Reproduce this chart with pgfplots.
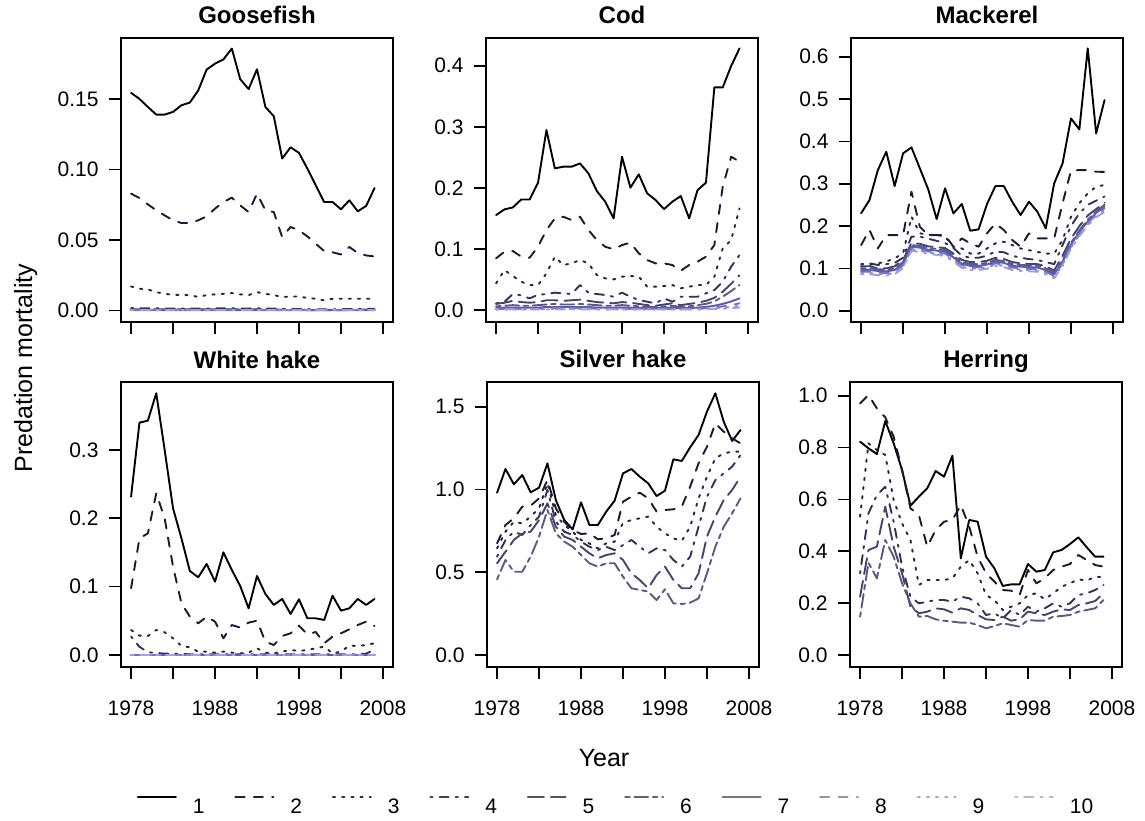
\documentclass[border=0pt]{standalone}
\usepackage{fontspec}
\setmainfont{Liberation Sans}
\usepackage{pgfplots}
\usepackage{pgfplotstable}
\pgfplotsset{compat=1.18}

\definecolor{c1}{HTML}{000000}
\definecolor{c2}{HTML}{1A1A38}
\definecolor{c3}{HTML}{24244A}
\definecolor{c4}{HTML}{33335A}
\definecolor{c5}{HTML}{45456C}
\definecolor{c6}{HTML}{5A5A85}
\definecolor{c7}{HTML}{5A5AAE}
\definecolor{c8}{HTML}{7272C0}
\definecolor{c9}{HTML}{8A8AD0}
\definecolor{c10}{HTML}{A0A0DC}
\definecolor{g1}{HTML}{000000}
\definecolor{g2}{HTML}{222222}
\definecolor{g3}{HTML}{333333}
\definecolor{g4}{HTML}{444444}
\definecolor{g5}{HTML}{555555}
\definecolor{g6}{HTML}{666666}
\definecolor{g7}{HTML}{777777}
\definecolor{g8}{HTML}{999999}
\definecolor{g9}{HTML}{AAAAAA}
\definecolor{g10}{HTML}{BBBBBB}

\pgfplotsset{
 ln/.style={line width=1.9pt, line cap=round, line join=round, mark=none},
 d1/.style={solid},
 d2/.style={dash pattern=on 9.2pt off 9.2pt},
 d3/.style={dash pattern=on 2.3pt off 6.9pt},
 d4/.style={dash pattern=on 2.3pt off 6.9pt on 9.2pt off 6.9pt},
 d5/.style={dash pattern=on 16.1pt off 6.9pt},
 d6/.style={dash pattern=on 4.6pt off 4.6pt on 13.8pt off 4.6pt},
 s1/.style={ln, c1, d1}, s2/.style={ln, c2, d2}, s3/.style={ln, c3, d3},
 s4/.style={ln, c4, d4}, s5/.style={ln, c5, d5}, s6/.style={ln, c6, d6},
 s7/.style={ln, c7, d1}, s8/.style={ln, c8, d2}, s9/.style={ln, c9, d3},
 s10/.style={ln, c10, d4},
 panel/.style={
  scale only axis, width=272pt, height=284pt, anchor=south west,
  xmin=1976.8, xmax=2009.2, xtick={1978,1983,1988,1993,1998,2003,2008},
  xtick pos=bottom, ytick pos=left, tick align=outside, major tick length=12pt,
  axis line style={line width=1.7pt}, tick style={line width=1.7pt, black},
  tick label style={font=\fontsize{21}{25}\selectfont},
  yticklabel style={anchor=east, xshift=-7pt},
  xticklabel style={anchor=base, yshift=-36pt},
  title style={at={(0.5,1)}, anchor=base, yshift=8pt, font=\bfseries\fontsize{24}{28}\selectfont},
 },
 toprow/.style={xticklabels={,,,,,,}},
 botrow/.style={xticklabels={1978,,1988,,1998,,2008}},
}

\pgfplotstableread{
yr a1 a2 a3 a4 a5 a6 a7 a8 a9 a10
1978 0.1543 0.0828 0.0170 0.0016 0.0008 0.0004 0.0002 0.0001 0.0001 0.0001
1979 0.1500 0.0797 0.0154 0.0016 0.0008 0.0004 0.0002 0.0001 0.0001 0.0001
1980 0.1443 0.0752 0.0149 0.0015 0.0008 0.0004 0.0002 0.0001 0.0001 0.0001
1981 0.1389 0.0710 0.0130 0.0015 0.0008 0.0004 0.0002 0.0001 0.0001 0.0001
1982 0.1389 0.0674 0.0118 0.0014 0.0007 0.0004 0.0002 0.0001 0.0001 0.0001
1983 0.1408 0.0639 0.0111 0.0014 0.0007 0.0004 0.0002 0.0001 0.0001 0.0001
1984 0.1455 0.0620 0.0109 0.0014 0.0007 0.0004 0.0002 0.0001 0.0001 0.0001
1985 0.1474 0.0620 0.0109 0.0014 0.0007 0.0004 0.0002 0.0001 0.0001 0.0001
1986 0.1560 0.0639 0.0095 0.0013 0.0007 0.0003 0.0002 0.0001 0.0001 0.0001
1987 0.1708 0.0667 0.0109 0.0014 0.0007 0.0004 0.0002 0.0001 0.0001 0.0001
1988 0.1750 0.0722 0.0114 0.0014 0.0007 0.0004 0.0002 0.0001 0.0001 0.0001
1989 0.1780 0.0769 0.0118 0.0015 0.0008 0.0004 0.0002 0.0001 0.0001 0.0001
1990 0.1857 0.0800 0.0123 0.0015 0.0008 0.0004 0.0002 0.0001 0.0001 0.0001
1991 0.1640 0.0745 0.0114 0.0014 0.0007 0.0004 0.0002 0.0001 0.0001 0.0001
1992 0.1570 0.0698 0.0109 0.0014 0.0007 0.0004 0.0002 0.0001 0.0001 0.0001
1993 0.1710 0.0828 0.0130 0.0015 0.0008 0.0004 0.0002 0.0001 0.0001 0.0001
1994 0.1443 0.0710 0.0118 0.0013 0.0007 0.0003 0.0002 0.0001 0.0001 0.0001
1995 0.1377 0.0698 0.0109 0.0013 0.0007 0.0003 0.0002 0.0001 0.0001 0.0001
1996 0.1077 0.0520 0.0095 0.0011 0.0006 0.0003 0.0001 0.0001 0.0001 0.0001
1997 0.1157 0.0592 0.0099 0.0011 0.0006 0.0003 0.0001 0.0001 0.0001 0.0001
1998 0.1117 0.0568 0.0099 0.0010 0.0005 0.0003 0.0001 0.0001 0.0001 0.0001
1999 0.1006 0.0525 0.0088 0.0009 0.0005 0.0002 0.0001 0.0001 0.0001 0.0001
2000 0.0887 0.0473 0.0083 0.0008 0.0004 0.0002 0.0001 0.0001 0.0001 0.0001
2001 0.0769 0.0421 0.0071 0.0007 0.0004 0.0002 0.0001 0.0001 0.0001 0.0001
2002 0.0769 0.0412 0.0083 0.0008 0.0004 0.0002 0.0001 0.0001 0.0001 0.0001
2003 0.0717 0.0397 0.0083 0.0009 0.0005 0.0002 0.0001 0.0001 0.0001 0.0001
2004 0.0781 0.0450 0.0083 0.0010 0.0005 0.0003 0.0001 0.0001 0.0001 0.0001
2005 0.0703 0.0407 0.0083 0.0010 0.0005 0.0003 0.0001 0.0001 0.0001 0.0001
2006 0.0741 0.0390 0.0083 0.0011 0.0006 0.0003 0.0001 0.0001 0.0001 0.0001
2007 0.0868 0.0383 0.0083 0.0012 0.0006 0.0003 0.0002 0.0001 0.0001 0.0001
}\goose

\pgfplotstableread{
yr a1 a2 a3 a4 a5 a6 a7 a8 a9 a10
1978 0.1555 0.0846 0.0437 0.0109 0.010 0.006 0.003 0.002 0.001 0.001
1979 0.1648 0.0955 0.0655 0.0136 0.012 0.007 0.004 0.002 0.001 0.001
1980 0.1680 0.0966 0.0557 0.0262 0.015 0.008 0.004 0.002 0.001 0.001
1981 0.1810 0.0873 0.0464 0.0240 0.013 0.007 0.004 0.002 0.001 0.001
1982 0.1810 0.0857 0.0409 0.0191 0.012 0.007 0.004 0.002 0.001 0.001
1983 0.2085 0.1037 0.0409 0.0250 0.013 0.008 0.004 0.002 0.001 0.001
1984 0.2947 0.1310 0.0600 0.0262 0.016 0.009 0.005 0.003 0.002 0.001
1985 0.2319 0.1500 0.0873 0.0284 0.016 0.010 0.005 0.003 0.002 0.001
1986 0.2347 0.1528 0.0737 0.0273 0.015 0.009 0.005 0.003 0.002 0.001
1987 0.2347 0.1473 0.0764 0.0262 0.016 0.009 0.005 0.003 0.002 0.001
1988 0.2401 0.1528 0.0819 0.0409 0.017 0.010 0.005 0.003 0.002 0.001
1989 0.2237 0.1310 0.0764 0.0284 0.015 0.009 0.005 0.003 0.002 0.001
1990 0.1948 0.1146 0.0573 0.0262 0.013 0.008 0.004 0.002 0.001 0.001
1991 0.1774 0.1037 0.0518 0.0246 0.012 0.007 0.004 0.002 0.001 0.001
1992 0.1501 0.0993 0.0502 0.0218 0.011 0.007 0.004 0.002 0.001 0.001
1993 0.2510 0.1064 0.0546 0.0284 0.013 0.008 0.004 0.002 0.001 0.001
1994 0.2003 0.1102 0.0557 0.0218 0.012 0.007 0.004 0.002 0.001 0.001
1995 0.2221 0.0928 0.0546 0.0164 0.010 0.006 0.003 0.002 0.001 0.001
1996 0.1910 0.0819 0.0382 0.0136 0.008 0.005 0.003 0.002 0.001 0.001
1997 0.1801 0.0764 0.0382 0.0109 0.007 0.005 0.003 0.002 0.001 0.001
1998 0.1653 0.0764 0.0393 0.0191 0.009 0.006 0.003 0.002 0.001 0.001
1999 0.1774 0.0737 0.0409 0.0136 0.011 0.007 0.004 0.002 0.001 0.001
2000 0.1866 0.0644 0.0355 0.0218 0.008 0.005 0.003 0.002 0.001 0.001
2001 0.1501 0.0737 0.0382 0.0218 0.010 0.006 0.003 0.002 0.001 0.001
2002 0.1964 0.0792 0.0409 0.0218 0.012 0.008 0.004 0.002 0.001 0.001
2003 0.2085 0.0873 0.0409 0.0273 0.015 0.010 0.005 0.003 0.002 0.001
2004 0.3645 0.1064 0.0546 0.0327 0.020 0.014 0.007 0.004 0.003 0.002
2005 0.3645 0.2019 0.1010 0.0464 0.030 0.022 0.010 0.006 0.004 0.002
2006 0.3995 0.2510 0.1146 0.0709 0.043 0.031 0.014 0.008 0.005 0.003
2007 0.4284 0.2428 0.1664 0.0900 0.057 0.041 0.019 0.011 0.007 0.004
}\cod

\pgfplotstableread{
yr a1 a2 a3 a4 a5 a6 a7 a8 a9 a10
1978 0.2300 0.1551 0.104 0.110 0.105 0.100 0.096 0.092 0.089 0.086
1979 0.2614 0.1906 0.108 0.112 0.105 0.100 0.096 0.092 0.089 0.086
1980 0.3323 0.1472 0.112 0.108 0.100 0.098 0.094 0.090 0.087 0.084
1981 0.3756 0.1787 0.116 0.110 0.100 0.097 0.093 0.089 0.086 0.083
1982 0.2945 0.1787 0.124 0.113 0.105 0.100 0.096 0.092 0.089 0.086
1983 0.3717 0.1787 0.135 0.125 0.120 0.115 0.111 0.107 0.104 0.101
1984 0.3858 0.2811 0.222 0.175 0.160 0.155 0.151 0.147 0.144 0.141
1985 0.3362 0.1984 0.183 0.175 0.158 0.153 0.149 0.145 0.142 0.139
1986 0.2866 0.1787 0.179 0.170 0.152 0.148 0.144 0.140 0.137 0.134
1987 0.2165 0.1787 0.179 0.165 0.150 0.146 0.142 0.138 0.135 0.132
1988 0.2890 0.1787 0.175 0.160 0.148 0.143 0.139 0.135 0.132 0.129
1989 0.2300 0.1512 0.151 0.148 0.135 0.130 0.126 0.122 0.119 0.116
1990 0.2520 0.1709 0.147 0.130 0.120 0.115 0.111 0.107 0.104 0.101
1991 0.1890 0.1590 0.135 0.125 0.115 0.110 0.106 0.102 0.099 0.096
1992 0.1921 0.1512 0.135 0.125 0.115 0.110 0.106 0.102 0.099 0.096
1993 0.2520 0.1827 0.147 0.130 0.118 0.113 0.109 0.105 0.102 0.099
1994 0.2945 0.2063 0.159 0.140 0.125 0.120 0.116 0.112 0.109 0.106
1995 0.2945 0.1906 0.163 0.138 0.122 0.117 0.113 0.109 0.106 0.103
1996 0.2575 0.1669 0.155 0.130 0.115 0.110 0.106 0.102 0.099 0.096
1997 0.2260 0.1512 0.147 0.125 0.112 0.108 0.104 0.100 0.097 0.094
1998 0.2575 0.1827 0.143 0.122 0.110 0.107 0.103 0.099 0.096 0.093
1999 0.2339 0.1709 0.139 0.120 0.110 0.106 0.102 0.098 0.095 0.092
2000 0.1945 0.1709 0.135 0.115 0.105 0.100 0.096 0.092 0.089 0.086
2001 0.3008 0.1709 0.135 0.110 0.095 0.090 0.086 0.082 0.079 0.076
2002 0.3480 0.2535 0.167 0.155 0.130 0.120 0.116 0.112 0.109 0.106
2003 0.4543 0.3307 0.222 0.200 0.170 0.160 0.156 0.152 0.149 0.146
2004 0.4283 0.3323 0.254 0.230 0.200 0.190 0.186 0.182 0.179 0.176
2005 0.6197 0.3323 0.277 0.250 0.225 0.215 0.211 0.207 0.204 0.201
2006 0.4189 0.3283 0.293 0.260 0.240 0.235 0.231 0.227 0.224 0.221
2007 0.4976 0.3280 0.297 0.270 0.255 0.250 0.246 0.242 0.238 0.233
}\mack

\pgfplotstableread{
yr a1 a2 a3 a4 a5 a6 a7 a8 a9 a10
1978 0.2317 0.0976 0.0366 0.0270 0.0005 0.0003 0.0001 0.0001 0.0001 0.0001
1979 0.3400 0.1707 0.0283 0.0120 0.0005 0.0003 0.0001 0.0001 0.0001 0.0001
1980 0.3430 0.1780 0.0278 0.0040 0.0005 0.0003 0.0001 0.0001 0.0001 0.0001
1981 0.3830 0.2366 0.0366 0.0030 0.0005 0.0003 0.0001 0.0001 0.0001 0.0001
1982 0.3000 0.2000 0.0332 0.0020 0.0005 0.0003 0.0001 0.0001 0.0001 0.0001
1983 0.2146 0.1293 0.0244 0.0020 0.0005 0.0003 0.0001 0.0001 0.0001 0.0001
1984 0.1707 0.0756 0.0132 0.0015 0.0005 0.0003 0.0001 0.0001 0.0001 0.0001
1985 0.1229 0.0561 0.0112 0.0010 0.0005 0.0003 0.0001 0.0001 0.0001 0.0001
1986 0.1137 0.0463 0.0049 0.0010 0.0005 0.0003 0.0001 0.0001 0.0001 0.0001
1987 0.1332 0.0561 0.0049 0.0010 0.0005 0.0003 0.0001 0.0001 0.0001 0.0001
1988 0.1073 0.0488 0.0034 0.0010 0.0005 0.0003 0.0001 0.0001 0.0001 0.0001
1989 0.1502 0.0244 0.0049 0.0010 0.0005 0.0003 0.0001 0.0001 0.0001 0.0001
1990 0.1244 0.0439 0.0034 0.0010 0.0005 0.0003 0.0001 0.0001 0.0001 0.0001
1991 0.1010 0.0400 0.0024 0.0010 0.0005 0.0003 0.0001 0.0001 0.0001 0.0001
1992 0.0683 0.0473 0.0034 0.0010 0.0005 0.0003 0.0001 0.0001 0.0001 0.0001
1993 0.1156 0.0502 0.0098 0.0010 0.0005 0.0003 0.0001 0.0001 0.0001 0.0001
1994 0.0893 0.0195 0.0034 0.0010 0.0005 0.0003 0.0001 0.0001 0.0001 0.0001
1995 0.0732 0.0146 0.0024 0.0010 0.0005 0.0003 0.0001 0.0001 0.0001 0.0001
1996 0.0820 0.0278 0.0049 0.0010 0.0005 0.0003 0.0001 0.0001 0.0001 0.0001
1997 0.0600 0.0317 0.0073 0.0010 0.0005 0.0003 0.0001 0.0001 0.0001 0.0001
1998 0.0815 0.0429 0.0059 0.0010 0.0005 0.0003 0.0001 0.0001 0.0001 0.0001
1999 0.0537 0.0302 0.0073 0.0010 0.0005 0.0003 0.0001 0.0001 0.0001 0.0001
2000 0.0537 0.0337 0.0098 0.0010 0.0005 0.0003 0.0001 0.0001 0.0001 0.0001
2001 0.0512 0.0171 0.0122 0.0010 0.0005 0.0003 0.0001 0.0001 0.0001 0.0001
2002 0.0868 0.0268 0.0024 0.0010 0.0005 0.0003 0.0001 0.0001 0.0001 0.0001
2003 0.0649 0.0317 0.0049 0.0010 0.0005 0.0003 0.0001 0.0001 0.0001 0.0001
2004 0.0683 0.0376 0.0137 0.0010 0.0005 0.0003 0.0001 0.0001 0.0001 0.0001
2005 0.0820 0.0439 0.0132 0.0010 0.0005 0.0003 0.0001 0.0001 0.0001 0.0001
2006 0.0732 0.0488 0.0146 0.0020 0.0005 0.0003 0.0001 0.0001 0.0001 0.0001
2007 0.0820 0.0424 0.0171 0.0080 0.0005 0.0003 0.0001 0.0001 0.0001 0.0001
}\whake

\pgfplotstableread{
yr a1 a2 a3 a4 a5 a6
1978 0.9805 0.6745 0.644 0.594 0.554 0.457
1979 1.1235 0.7850 0.745 0.695 0.624 0.574
1980 1.0310 0.8255 0.805 0.745 0.695 0.503
1981 1.0870 0.8960 0.795 0.725 0.735 0.503
1982 0.9825 0.9020 0.836 0.785 0.745 0.594
1983 1.0107 0.9460 0.886 0.836 0.815 0.715
1984 1.1577 1.0570 1.037 0.997 0.916 0.876
1985 0.9360 0.8860 0.846 0.805 0.775 0.735
1986 0.8154 0.8050 0.785 0.745 0.715 0.685
1987 0.7590 0.7550 0.745 0.725 0.695 0.654
1988 0.9220 0.7310 0.695 0.685 0.654 0.604
1989 0.7850 0.7350 0.674 0.654 0.614 0.554
1990 0.7850 0.6990 0.644 0.634 0.584 0.534
1991 0.8660 0.7050 0.674 0.654 0.604 0.554
1992 0.9320 0.7250 0.685 0.634 0.614 0.554
1993 1.0970 0.9260 0.799 0.664 0.574 0.473
1994 1.1235 0.9560 0.815 0.695 0.493 0.403
1995 1.0770 0.9805 0.826 0.654 0.453 0.393
1996 1.0370 0.9460 0.836 0.614 0.403 0.383
1997 0.9600 0.8660 0.775 0.644 0.483 0.332
1998 0.9926 0.8760 0.735 0.634 0.534 0.397
1999 1.1819 0.8800 0.705 0.574 0.453 0.312
2000 1.1720 0.8960 0.689 0.534 0.403 0.308
2001 1.2544 1.0170 0.775 0.594 0.403 0.316
2002 1.3290 1.1580 0.946 0.775 0.493 0.342
2003 1.4700 1.2580 1.077 0.956 0.715 0.493
2004 1.5805 1.3990 1.188 1.057 0.836 0.654
2005 1.4090 1.3490 1.218 1.097 0.936 0.775
2006 1.2926 1.3090 1.228 1.138 0.997 0.856
2007 1.3590 1.2780 1.228 1.208 1.077 0.946
}\shake

\pgfplotstableread{
yr a1 a2 a3 a4 a5 a6
1978 0.8226 0.9704 0.5334 0.3149 0.2249 0.1478
1979 0.7970 1.0026 0.8162 0.5463 0.4049 0.3560
1980 0.7750 0.9512 0.7905 0.6170 0.4177 0.2956
1981 0.9023 0.9165 0.7712 0.6491 0.5720 0.4434
1982 0.8162 0.8419 0.5977 0.5141 0.4177 0.3792
1983 0.7134 0.7134 0.5077 0.3406 0.3149 0.2763
1984 0.5758 0.5656 0.4434 0.2249 0.1864 0.1992
1985 0.6105 0.5398 0.2699 0.1992 0.1607 0.1478
1986 0.6427 0.4177 0.2892 0.2057 0.1671 0.1504
1987 0.7095 0.4820 0.2892 0.2121 0.1800 0.1375
1988 0.6877 0.5141 0.2892 0.2121 0.1761 0.1324
1989 0.7686 0.5206 0.2956 0.2057 0.1632 0.1285
1990 0.3728 0.5784 0.3406 0.2249 0.1800 0.1247
1991 0.5206 0.4949 0.3663 0.2185 0.1735 0.1247
1992 0.5141 0.3792 0.3149 0.1992 0.1542 0.1157
1993 0.3792 0.3149 0.2314 0.1542 0.1375 0.1028
1994 0.3342 0.2828 0.2121 0.1607 0.1350 0.1118
1995 0.2661 0.2506 0.1735 0.1414 0.1478 0.1221
1996 0.2725 0.2481 0.1864 0.1735 0.1324 0.1157
1997 0.2725 0.2314 0.1992 0.1542 0.1375 0.1093
1998 0.3509 0.3278 0.2314 0.1864 0.1671 0.1350
1999 0.3213 0.2763 0.2378 0.1671 0.1607 0.1324
2000 0.3278 0.2956 0.2147 0.1800 0.1542 0.1324
2001 0.3959 0.3278 0.2378 0.1992 0.1671 0.1478
2002 0.4049 0.3406 0.2635 0.1864 0.1761 0.1504
2003 0.4280 0.3509 0.2763 0.1992 0.1735 0.1542
2004 0.4537 0.3856 0.2918 0.2314 0.1928 0.1671
2005 0.4152 0.3663 0.2866 0.2378 0.1992 0.1735
2006 0.3792 0.3470 0.3021 0.2506 0.2082 0.1800
2007 0.3792 0.3406 0.2995 0.2699 0.2378 0.2121
}\herring

\begin{document}
\begin{tikzpicture}
% frame axis: outer labels and legend
\begin{axis}[at={(0pt,0pt)}, anchor=south west, scale only axis, width=1145pt, height=820pt,
  xmin=0, xmax=1145, ymin=0, ymax=820, hide axis, clip=false,
  legend columns=10,
  legend image code/.code={\path[draw=none, fill=none] (0pt,0pt) rectangle (55pt,10pt); \draw[#1, fill=none] (0pt,10pt) -- (38pt,10pt);},
  legend style={at={(0.119651,0.017683)}, anchor=west, draw=none, fill=none,
    inner sep=0pt, outer sep=0pt, column sep=0pt, row sep=0pt,
    font=\fontsize{21}{25}\selectfont, nodes={inner sep=0pt, outer sep=0pt}, cells={anchor=west}}]
\addlegendimage{ln, g1, d1}
\addlegendimage{ln, g2, d2}
\addlegendimage{ln, g3, d3}
\addlegendimage{ln, g4, d4}
\addlegendimage{ln, g5, d5}
\addlegendimage{ln, g6, d6}
\addlegendimage{ln, g7, d1}
\addlegendimage{ln, g8, d2}
\addlegendimage{ln, g9, d3}
\addlegendimage{ln, g10, d4}
\legend{\makebox[41.5pt][l]{1},\makebox[41.5pt][l]{2},\makebox[41.5pt][l]{3},\makebox[41.5pt][l]{4},\makebox[41.5pt][l]{5},\makebox[41.5pt][l]{6},\makebox[41.5pt][l]{7},\makebox[41.5pt][l]{8},\makebox[41.5pt][l]{9},\makebox[41.5pt][l]{10}}
\node[rotate=90, anchor=base, font=\fontsize{25}{30}\selectfont] at (axis cs:32,452) {Predation mortality};
\node[anchor=base, font=\fontsize{25}{30}\selectfont] at (axis cs:604,53.3) {Year};
\end{axis}

% Goosefish
\begin{axis}[panel, toprow, at={(121pt,498pt)}, title={Goosefish},
  ymin=-0.0082, ymax=0.1932, ytick={0,0.05,0.1,0.15}, yticklabels={0.00,0.05,0.10,0.15}]
\pgfplotsinvokeforeach{1,...,10}{\addplot[s#1] table[x=yr, y=a#1]{\goose};}
\end{axis}
% Cod
\begin{axis}[panel, toprow, at={(486pt,498pt)}, title={Cod},
  ymin=-0.0196, ymax=0.4454, ytick={0,0.1,0.2,0.3,0.4}, yticklabels={0.0,0.1,0.2,0.3,0.4}]
\pgfplotsinvokeforeach{1,...,10}{\addplot[s#1] table[x=yr, y=a#1]{\cod};}
\end{axis}
% Mackerel
\begin{axis}[panel, toprow, at={(851pt,498pt)}, title={Mackerel},
  ymin=-0.0267, ymax=0.6443, ytick={0,0.1,0.2,0.3,0.4,0.5,0.6}, yticklabels={0.0,0.1,0.2,0.3,0.4,0.5,0.6}]
\pgfplotsinvokeforeach{1,...,10}{\addplot[s#1] table[x=yr, y=a#1]{\mack};}
\end{axis}
% White hake
\begin{axis}[panel, botrow, height=285pt, at={(121pt,153pt)}, title={White hake},
  ymin=-0.0176, ymax=0.3995, ytick={0,0.1,0.2,0.3}, yticklabels={0.0,0.1,0.2,0.3}]
\pgfplotsinvokeforeach{1,...,10}{\addplot[s#1] table[x=yr, y=a#1]{\whake};}
\end{axis}
% Silver hake
\begin{axis}[panel, botrow, height=285pt, at={(487pt,153pt)}, title={Silver hake},
  ymin=-0.0725, ymax=1.649, ytick={0,0.5,1,1.5}, yticklabels={0.0,0.5,1.0,1.5}]
\pgfplotsinvokeforeach{1,...,6}{\addplot[s#1] table[x=yr, y=a#1]{\shake};}
\end{axis}
% Herring
\begin{axis}[panel, botrow, height=285pt, at={(850pt,153pt)}, title={Herring},
  ymin=-0.0463, ymax=1.0528, ytick={0,0.2,0.4,0.6,0.8,1}, yticklabels={0.0,0.2,0.4,0.6,0.8,1.0}]
\pgfplotsinvokeforeach{1,...,6}{\addplot[s#1] table[x=yr, y=a#1]{\herring};}
\end{axis}
\pgfresetboundingbox
\path (0pt,0pt) rectangle (1145pt,820pt);
\end{tikzpicture}
\end{document}
